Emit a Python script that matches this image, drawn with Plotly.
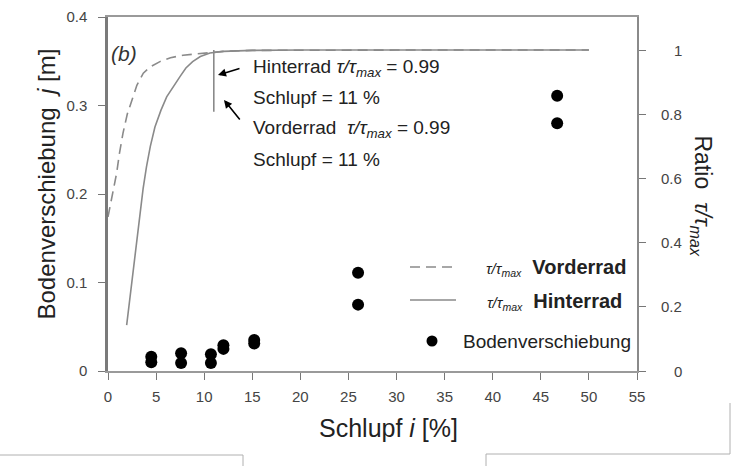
import plotly.graph_objects as go

# ---------------- data ----------------
slip_points = [4.5, 4.5, 7.6, 7.6, 10.7, 10.7, 12.0, 12.0, 15.2, 15.2, 26.0, 26.0, 46.7, 46.7]
soil_displacement = [0.016, 0.010, 0.020, 0.009, 0.019, 0.009, 0.029, 0.025, 0.035, 0.031,
                     0.111, 0.075, 0.311, 0.280]

slip_rear = [1.94, 2.3, 2.63, 3.0, 3.32, 3.65, 4.0, 4.4, 4.88, 5.5, 6.1, 6.8, 7.5, 8.1, 8.8, 9.6, 10.6,
             12, 15, 20, 30, 40, 50]
ratio_rear = [0.143, 0.23, 0.315, 0.41, 0.492, 0.568, 0.636, 0.70, 0.760, 0.812, 0.854, 0.888, 0.918,
              0.944, 0.964, 0.980, 0.991, 0.996, 0.999, 1.0, 1.0, 1.0, 1.0]

slip_front = [0, 0.2, 0.5, 0.9, 1.2, 1.56, 2.0, 2.46, 3.0, 3.67, 4.4, 5.4, 6.5, 7.8, 10.2,
              12, 15, 20, 30, 40, 50]
ratio_front = [0.48, 0.51, 0.565, 0.617, 0.68, 0.741, 0.80, 0.844, 0.89, 0.928, 0.948, 0.964, 0.976,
               0.984, 0.992, 0.996, 0.999, 1.0, 1.0, 1.0, 1.0]

marker_slip = [11, 11]
marker_ratio = [0.808, 1.0]

x_ticks = [0, 5, 10, 15, 20, 25, 30, 35, 40, 45, 50, 55]
y_ticks = [0, 0.1, 0.2, 0.3, 0.4]
y_ticklabels = ["0", "0.1", "0.2", "0.3", "0.4"]
y2_ticks = [0, 0.2, 0.4, 0.6, 0.8, 1.0]
y2_ticklabels = ["0", "0.2", "0.4", "0.6", "0.8", "1"]

# ---------------- layout geometry ----------------
W, H = 735, 466
L, R, T, B = 108, 637, 17, 371
FONT = "Liberation Sans, Arial, sans-serif"
LINE_GREY = "#8a8a8a"


def px(x):
    return (x - L) / (R - L)


def py(y):
    return (B - y) / (B - T)


fig = go.Figure()

fig.add_trace(go.Scatter(x=slip_front, y=ratio_front, yaxis="y2", mode="lines",
                         line=dict(color=LINE_GREY, width=1.6, dash="10px,6px"),
                         showlegend=False))
fig.add_trace(go.Scatter(x=slip_rear, y=ratio_rear, yaxis="y2", mode="lines",
                         line=dict(color=LINE_GREY, width=1.6),
                         showlegend=False))
fig.add_trace(go.Scatter(x=marker_slip, y=marker_ratio, yaxis="y2", mode="lines",
                         line=dict(color=LINE_GREY, width=1.6), showlegend=False))
fig.add_trace(go.Scatter(x=slip_points, y=soil_displacement, mode="markers",
                         marker=dict(color="black", size=12), showlegend=False))

tickfont = dict(family=FONT, size=15, color="#444444")

fig.update_layout(
    width=W, height=H, autosize=False,
    margin=dict(l=L, r=W - R, t=T, b=H - B, pad=0),
    paper_bgcolor="white", plot_bgcolor="white",
    xaxis=dict(range=[0, 55], tickvals=x_ticks, showgrid=False, zeroline=False,
               showline=True, linecolor="#9a9a9a", linewidth=2, mirror=True,
               ticks="outside", ticklen=7, tickcolor="#777777", tickfont=tickfont,
               ticklabelstandoff=4, automargin=False),
    yaxis=dict(range=[0, 0.4], tickvals=y_ticks, ticktext=y_ticklabels, showgrid=False,
               zeroline=False, showline=True, linecolor="#7a7a7a", linewidth=2.5,
               ticks="outside", ticklen=7, tickcolor="#777777", tickfont=tickfont,
               ticklabelstandoff=8, automargin=False),
    yaxis2=dict(range=[0, 1.103], overlaying="y", side="right", tickvals=y2_ticks,
                showticklabels=False, showgrid=False, zeroline=False, showline=True,
                linecolor="#8a8a8a", linewidth=1.5, ticks="outside", ticklen=7,
                tickcolor="#777777", automargin=False),
)

ann = []
# right tick labels (right aligned)
for v, t in zip(y2_ticks, y2_ticklabels):
    ann.append(dict(x=px(684), xref="paper", y=v, yref="y2", text=t, showarrow=False,
                    xanchor="right", yanchor="middle", font=tickfont))

# axis titles
ann.append(dict(x=px(30), y=py(184), xref="paper", yref="paper",
                text="Bodenverschiebung  <i>j</i> [m]", textangle=-90, showarrow=False,
                font=dict(family=FONT, size=24, color="#222222")))
ann.append(dict(x=px(388), y=py(444), xref="paper", yref="paper",
                text="Schlupf <i>i</i> [%]", showarrow=False,
                font=dict(family=FONT, size=25, color="#222222")))
ann.append(dict(x=px(718), y=py(196), xref="paper", yref="paper",
                text="Ratio  <i>τ/τ<sub>max</sub></i>", textangle=90, showarrow=False,
                font=dict(family=FONT, size=23, color="#222222")))

# panel label
ann.append(dict(x=px(109), y=py(40), xref="paper", yref="paper", text="<i>(b)</i>",
                showarrow=False, xanchor="left", font=dict(family=FONT, size=21, color="#333333")))

# text block
ann_font = dict(family=FONT, size=19, color="#222222")
for ytxt, txt in [(68, "Hinterrad <i>τ/τ</i><sub><i>max</i></sub> = 0.99"),
                  (98, "Schlupf = 11 %"),
                  (129, "Vorderrad  <i>τ/τ</i><sub><i>max</i></sub> = 0.99"),
                  (159, "Schlupf = 11 %")]:
    ann.append(dict(x=px(251), y=py(ytxt), xref="paper", yref="paper", text=txt,
                    showarrow=False, xanchor="left", yanchor="middle", font=ann_font))

# arrows
ann.append(dict(x=px(218), y=py(75), xref="paper", yref="paper", ax=23, ay=-7, text="",
                showarrow=True, arrowhead=2, arrowsize=1, arrowwidth=1.6, arrowcolor="black"))
ann.append(dict(x=px(224), y=py(100), xref="paper", yref="paper", ax=17, ay=21, text="",
                showarrow=True, arrowhead=2, arrowsize=1, arrowwidth=1.6, arrowcolor="black"))

# legend texts
ann.append(dict(x=px(628), y=py(267), xref="paper", yref="paper",
                text="<span style='font-size:15px'><i>τ/τ</i><sub><i>max</i></sub></span>  <b>Vorderrad</b>",
                showarrow=False, xanchor="right", yanchor="middle",
                font=dict(family=FONT, size=20, color="#222222")))
ann.append(dict(x=px(624), y=py(301), xref="paper", yref="paper",
                text="<span style='font-size:15px'><i>τ/τ</i><sub><i>max</i></sub></span>  <b>Hinterrad</b>",
                showarrow=False, xanchor="right", yanchor="middle",
                font=dict(family=FONT, size=20, color="#222222")))
ann.append(dict(x=px(633), y=py(341), xref="paper", yref="paper", text="Bodenverschiebung",
                showarrow=False, xanchor="right", yanchor="middle",
                font=dict(family=FONT, size=19, color="#222222")))

fig.update_layout(annotations=ann)

shapes = []
# legend samples
shapes.append(dict(type="line", xref="paper", yref="paper", x0=px(410), x1=px(456),
                   y0=py(267), y1=py(267), line=dict(color=LINE_GREY, width=1.6, dash="10px,6px")))
shapes.append(dict(type="line", xref="paper", yref="paper", x0=px(410), x1=px(456),
                   y0=py(300), y1=py(300), line=dict(color=LINE_GREY, width=1.6)))
shapes.append(dict(type="circle", xref="paper", yref="paper", x0=px(426.5), x1=px(437.5),
                   y0=py(346.5), y1=py(335.5), fillcolor="black", line=dict(color="black", width=0)))
# page-edge decorative lines
deco = dict(color="#b0b0b0", width=1)
shapes.append(dict(type="line", xref="paper", yref="paper", x0=px(0), x1=px(243),
                   y0=py(455), y1=py(455), line=deco))
shapes.append(dict(type="line", xref="paper", yref="paper", x0=px(243), x1=px(243),
                   y0=py(455), y1=py(466), line=deco))
shapes.append(dict(type="line", xref="paper", yref="paper", x0=px(486), x1=px(730),
                   y0=py(454), y1=py(454), line=deco))
shapes.append(dict(type="line", xref="paper", yref="paper", x0=px(486), x1=px(486),
                   y0=py(454), y1=py(466), line=deco))
shapes.append(dict(type="line", xref="paper", yref="paper", x0=px(730), x1=px(730),
                   y0=py(403), y1=py(454), line=deco))
fig.update_layout(shapes=shapes)

fig.write_html("out.html", config={"displayModeBar": False},
               post_script="document.body.style.margin='0px';")
